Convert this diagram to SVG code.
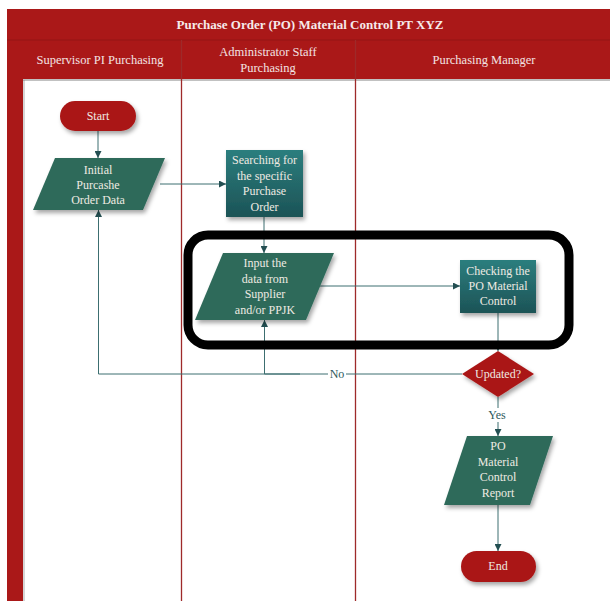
<svg xmlns="http://www.w3.org/2000/svg" width="610" height="601" viewBox="0 0 610 601">
  <defs>
    <filter id="shadow" x="-20%" y="-20%" width="150%" height="160%">
      <feDropShadow dx="2" dy="3" stdDeviation="2" flood-color="#000" flood-opacity="0.35"/>
    </filter>
    <linearGradient id="tealGrad" x1="0" y1="0" x2="0" y2="1">
      <stop offset="0" stop-color="#2C7E7E"/>
      <stop offset="1" stop-color="#1C5356"/>
    </linearGradient>
    <marker id="arrow" viewBox="0 0 10 10" refX="10" refY="5" markerWidth="7" markerHeight="7" orient="auto" markerUnits="userSpaceOnUse">
      <path d="M0,0 L10,5 L0,10 z" fill="#234F52"/>
    </marker>
    <style>
      .hdr { fill: #AA1818; }
      .hdrText { font-family: "Liberation Serif", serif; font-size: 12.5px; fill: #F3E3E3; text-anchor: middle; }
      .title { font-family: "Liberation Serif", serif; font-size: 13px; font-weight: bold; fill: #F6EAEA; text-anchor: middle; }
      .lane { stroke: #9E2A2A; stroke-width: 1.3; }
      .term { fill: #AA1818; filter: url(#shadow); }
      .io { fill: #2F6A5A; filter: url(#shadow); }
      .proc { fill: url(#tealGrad); filter: url(#shadow); }
      .dec { fill: #AA1818; filter: url(#shadow); }
      .label { font-family: "Liberation Serif", serif; font-size: 12px; fill: #EFEAE3; text-anchor: middle; }
      .edge { fill: none; stroke: #3C6E70; stroke-width: 1; }
      .edgeLabel { font-family: "Liberation Serif", serif; font-size: 12px; fill: #2E5A5C; text-anchor: middle; }
    </style>
  </defs>

  <rect width="610" height="601" fill="#FFFFFF"/>

  <!-- swimlane frame -->
  <g id="pool">
    <rect x="22" y="79" width="586" height="522" fill="#FFFFFF"/>
    <line x1="608.5" y1="79" x2="608.5" y2="601" stroke="#E6E6E6" stroke-width="1"/>
    <rect class="hdr" x="7" y="9" width="603" height="592"/>
    <rect x="23" y="79" width="587" height="522" fill="#FFFFFF"/>
    <line x1="7" y1="40" x2="610" y2="40" stroke="#941414" stroke-width="1"/>
    <line x1="23" y1="80" x2="610" y2="80" stroke="#777" stroke-width="2" opacity="0.45"/>
    <line x1="24" y1="80" x2="24" y2="601" stroke="#777" stroke-width="2" opacity="0.3"/>
    <line class="lane" x1="181.5" y1="40" x2="181.5" y2="601"/>
    <line class="lane" x1="355.5" y1="40" x2="355.5" y2="601"/>
    <text class="title" x="310" y="29">Purchase Order (PO) Material Control PT XYZ</text>
    <text class="hdrText" x="100" y="64">Supervisor PI Purchasing</text>
    <text class="hdrText" x="268" y="56">Administrator Staff</text>
    <text class="hdrText" x="268" y="72">Purchasing</text>
    <text class="hdrText" x="484" y="64">Purchasing Manager</text>
  </g>

  <!-- connectors -->
  <g id="connectors">
    <line class="edge" x1="98" y1="131" x2="98" y2="158" marker-end="url(#arrow)"/>
    <line class="edge" x1="160" y1="184" x2="226" y2="184" marker-end="url(#arrow)"/>
    <line class="edge" x1="264" y1="217" x2="264" y2="253" marker-end="url(#arrow)"/>
    <line class="edge" x1="320" y1="286" x2="460" y2="286" marker-end="url(#arrow)"/>
    <line class="edge" x1="498" y1="313" x2="498" y2="351" marker-end="url(#arrow)"/>
    <polyline class="edge" points="462,374 98.5,374 98.5,210" marker-end="url(#arrow)"/>
    <polyline class="edge" points="300,374 264.5,374 264.5,320" marker-end="url(#arrow)"/>
    <line class="edge" x1="498" y1="397" x2="498" y2="436" marker-end="url(#arrow)"/>
    <line class="edge" x1="498" y1="505" x2="498" y2="551" marker-end="url(#arrow)"/>
    <rect x="328" y="366" width="18" height="14" fill="#FFFFFF"/>
    <text class="edgeLabel" x="337" y="378">No</text>
    <rect x="486" y="408" width="24" height="14" fill="#FFFFFF"/>
    <text class="edgeLabel" x="497" y="419">Yes</text>
  </g>

  <!-- nodes -->
  <g id="start">
    <rect class="term" x="60" y="101" width="76" height="30" rx="15"/>
    <text class="label" x="98" y="120">Start</text>
  </g>

  <g id="initial-po-data">
    <polygon class="io" points="55,158 165,158 143,210 33,210"/>
    <text class="label" x="98" y="174">Initial</text>
    <text class="label" x="98" y="189">Purcashe</text>
    <text class="label" x="98" y="204">Order Data</text>
  </g>

  <g id="search-po">
    <rect class="proc" x="226" y="150" width="77" height="67"/>
    <text class="label" x="264.5" y="164">Searching for</text>
    <text class="label" x="264.5" y="180">the specific</text>
    <text class="label" x="264.5" y="195">Purchase</text>
    <text class="label" x="264.5" y="211">Order</text>
  </g>

  <g id="input-data">
    <polygon class="io" points="223,253 334,253 306,320 195,320"/>
    <text class="label" x="265" y="267">Input the</text>
    <text class="label" x="265" y="283">data from</text>
    <text class="label" x="265" y="298">Supplier</text>
    <text class="label" x="265" y="314">and/or PPJK</text>
  </g>

  <g id="check-po">
    <rect class="proc" x="460" y="260" width="76" height="53"/>
    <text class="label" x="498" y="275">Checking the</text>
    <text class="label" x="498" y="290">PO Material</text>
    <text class="label" x="498" y="305">Control</text>
  </g>

  <g id="updated">
    <polygon class="dec" points="498,351 534,374 498,397 462,374"/>
    <text class="label" x="498" y="378" font-size="11.5">Updated?</text>
  </g>

  <g id="po-report">
    <polygon class="io" points="467,436 553,436 530,505 444,505"/>
    <text class="label" x="498" y="450">PO</text>
    <text class="label" x="498" y="466">Material</text>
    <text class="label" x="498" y="481">Control</text>
    <text class="label" x="498" y="497">Report</text>
  </g>

  <g id="end">
    <rect class="term" x="461" y="551" width="75" height="31" rx="15.5"/>
    <text class="label" x="498" y="570">End</text>
  </g>

  <!-- highlight frame -->
  <g id="highlight">
    <rect x="188" y="235" width="381" height="110" rx="20" fill="none" stroke="#000000" stroke-width="9"/>
  </g>
</svg>
